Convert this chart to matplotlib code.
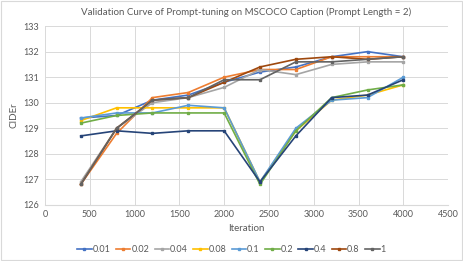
import matplotlib
matplotlib.use('Agg')
import matplotlib.pyplot as plt

iterations = [400, 800, 1200, 1600, 2000, 2400, 2800, 3200, 3600, 4000]

s_001 = [129.4, 129.5, 130.1, 130.3, 130.8, 131.2, 131.4, 131.8, 132.0, 131.8]
s_002 = [126.8, 128.8, 130.2, 130.4, 131.0, 131.3, 131.3, 131.8, 131.8, 131.8]
s_004 = [126.9, 129.0, 130.0, 130.2, 130.6, 131.3, 131.1, 131.5, 131.6, 131.6]
s_008 = [129.3, 129.8, 129.8, 129.8, 129.8, 126.9, 128.9, 130.1, 130.3, 130.7]
s_01 = [129.4, 129.6, 129.6, 129.9, 129.8, 126.9, 129.0, 130.1, 130.2, 131.0]
s_02 = [129.2, 129.5, 129.6, 129.6, 129.6, 126.8, 128.9, 130.2, 130.5, 130.7]
s_04 = [128.7, 128.9, 128.8, 128.9, 128.9, 126.9, 128.7, 130.2, 130.3, 130.9]
s_08 = [126.8, 129.0, 130.1, 130.2, 130.8, 131.4, 131.7, 131.8, 131.7, 131.8]
s_1 = [126.8, 129.0, 130.1, 130.2, 130.9, 130.9, 131.6, 131.6, 131.7, 131.8]

labels = ['0.01', '0.02', '0.04', '0.08', '0.1', '0.2', '0.4', '0.8', '1']
series = [s_001, s_002, s_004, s_008, s_01, s_02, s_04, s_08, s_1]
colors = ['#4472C4', '#ED7D31', '#A5A5A5', '#FFC000', '#5B9BD5',
          '#70AD47', '#264478', '#9E480E', '#636363']

plt.rcParams['font.family'] = ['Lato', 'DejaVu Sans']

fig = plt.figure(figsize=(4.63, 2.61), dpi=100)
ax = fig.add_axes([0.097, 0.215, 0.871, 0.685])

for vals, lab, col in zip(series, labels, colors):
    ax.plot(iterations, vals, color=col, label=lab, lw=1.2,
            marker='s', markersize=1.8)

ax.set_xlim(0, 4500)
ax.set_ylim(126, 133)
ax.set_xticks(range(0, 4501, 500))
ax.set_yticks(range(126, 134))
ax.grid(True, color='#D9D9D9', lw=0.7)
ax.set_axisbelow(True)
for side in ['top', 'right', 'left']:
    ax.spines[side].set_visible(False)
ax.spines['bottom'].set_color('#D9D9D9')
ax.tick_params(length=0, labelsize=6.5, colors='#595959', pad=4)

ax.set_title('Validation Curve of Prompt-tuning on MSCOCO Caption (Prompt Length = 2)',
             fontsize=7, color='#595959', pad=8)
ax.set_xlabel('Iteration', fontsize=7, color='#595959', labelpad=3)
ax.set_ylabel('CIDEr', fontsize=7, color='#595959', labelpad=4)

fig.legend(loc='center', bbox_to_anchor=(0.5, 0.045), ncol=9, frameon=False,
           fontsize=6.5, labelcolor='#595959', handlelength=1.6,
           handletextpad=0.1, columnspacing=0.6)

fig.patches.append(plt.Rectangle((0.002, 0.002), 0.996, 0.996, transform=fig.transFigure,
                                 fill=False, edgecolor='#D9D9D9', lw=0.8))

fig.savefig('out.png', dpi=100)
